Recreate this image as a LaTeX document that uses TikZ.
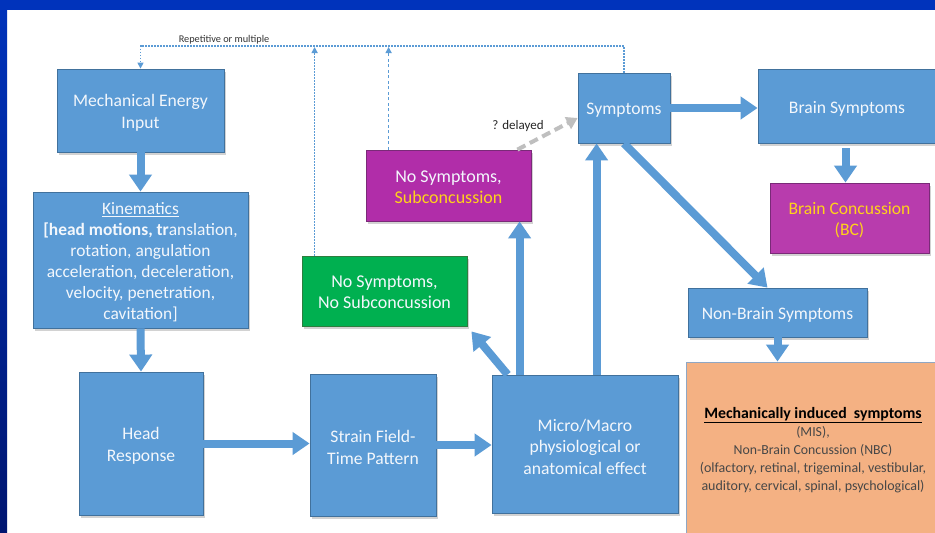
\documentclass[tikz,border=0pt]{standalone}
\usepackage{fontspec}
\setmainfont{Carlito}
\usetikzlibrary{arrows.meta,shadows,calc}

\definecolor{boxblue}{HTML}{5B9BD5}
\definecolor{boxedge}{HTML}{41719C}
\definecolor{subpurple}{HTML}{B12DA9}
\definecolor{bcpurple}{HTML}{B83CAD}
\definecolor{purpedge}{HTML}{7A2A78}
\definecolor{okgreen}{HTML}{00B050}
\definecolor{greenedge}{HTML}{2E7D3E}
\definecolor{peach}{HTML}{F4B183}
\definecolor{peachedge}{HTML}{8FA7C4}
\definecolor{warnyellow}{HTML}{FFD21A}
\definecolor{frameblue}{HTML}{0033BB}
\definecolor{framenavy}{HTML}{001570}
\definecolor{softwhite}{HTML}{F3F7FC}

\tikzset{
  box/.style={draw=boxedge, line width=0.8pt, fill=boxblue, inner sep=0pt,
    drop shadow={shadow xshift=2pt, shadow yshift=-2.5pt, opacity=0.35}},
  purplebox/.style={box, fill=subpurple, draw=purpedge},
  boxlabel/.style={text=softwhite, align=center, inner sep=0pt, yshift=-2.5pt,
    font=\fontsize{17.6}{22}\selectfont},
  fat/.style={draw=boxblue, line width=8pt, -{Triangle[width=22pt,length=17pt]}},
  loopline/.style={draw=boxblue, line width=1.4pt, dash pattern=on 1.3pt off 1.7pt},
  loopdash/.style={draw=boxblue, line width=1.3pt, dash pattern=on 3pt off 2.5pt},
  smalltip/.style={-{Triangle[width=6pt,length=6pt]}},
  delay/.style={draw=black!25, line width=4pt, dash pattern=on 9pt off 5pt,
    -{Triangle[width=13pt,length=11pt]}}
}

\begin{document}
\begin{tikzpicture}[x=1pt,y=-1pt]
\useasboundingbox (0,0) rectangle (935,533);

% slide frame
\fill[white] (0,0) rectangle (935,533);
\shade[top color=frameblue, bottom color=framenavy] (0,0) rectangle (7,533);
\fill[frameblue] (0,0) rectangle (935,10);

% main chain
\node[box, minimum width=167pt, minimum height=83pt,
      label={[boxlabel]center:{Mechanical Energy\\Input}}] (mech) at (140.5,110.5) {};
\node[box, minimum width=215pt, minimum height=136pt,
      label={[boxlabel, font=\fontsize{17.4}{21}\selectfont]center:{\underline{Kinematics}\\
   \textbf{[head motions, tr}anslation,\\
   rotation, angulation\\
   acceleration, deceleration,\\
   velocity, penetration,\\
   cavitation]}}] (kin) at (140.5,260) {};
\node[box, minimum width=124pt, minimum height=143pt,
      label={[boxlabel]center:{Head\\Response}}] (head) at (141,443.5) {};
\node[box, minimum width=126pt, minimum height=142pt,
      label={[boxlabel]center:{Strain Field-\\Time Pattern}}] (strain) at (373,445) {};
\node[box, minimum width=186pt, minimum height=138pt,
      label={[boxlabel, font=\fontsize{17.6}{21.5}\selectfont]center:{Micro/Macro\\physiological or\\anatomical effect}}]
      (micro) at (585,444) {};

% outcomes
\node[box, fill=okgreen, draw=greenedge, minimum width=165pt, minimum height=70pt,
      label={[boxlabel, yshift=1pt, font=\fontsize{18}{21}\selectfont]center:{No Symptoms,\\No Subconcussion}}]
      (green) at (384.5,291) {};
\node[purplebox, minimum width=165pt, minimum height=71pt,
      label={[boxlabel, yshift=1pt, font=\fontsize{18}{20.5}\selectfont]center:{No Symptoms,\\\textcolor{warnyellow}{Subconcussion}}}]
      (sub) at (448.5,185.5) {};
\node[box, minimum width=92pt, minimum height=70pt,
      label={[boxlabel]center:Symptoms}] (symp) at (624,108) {};
\node[box, minimum width=178pt, minimum height=74pt,
      label={[boxlabel]center:Brain Symptoms}] (brain) at (847,106) {};
\node[purplebox, fill=bcpurple, minimum width=159pt, minimum height=70pt,
      label={[boxlabel, text=warnyellow, font=\fontsize{17.6}{21}\selectfont]center:{Brain Concussion\\(BC)}}]
      (bc) at (849.5,218) {};
\node[box, minimum width=179pt, minimum height=49pt,
      label={[boxlabel]center:Non-Brain Symptoms}] (nbs) at (777.5,312.5) {};
\node[box, fill=peach, draw=peachedge, minimum width=254pt,
      minimum height=171pt] (mis) at (813,447.5) {};
\node[text=black!72, align=center, inner sep=0pt,
      font=\fontsize{13.8}{18}\selectfont] (mistext) at (813,450)
  {{\fontsize{15.8}{18}\selectfont\color{black}\underline{\textbf{Mechanically induced\ \ symptoms}}}\\
   (MIS),\\
   Non-Brain Concussion (NBC)\\
   {\fontsize{14}{18}\selectfont (olfactory, retinal, trigeminal, vestibular,}\\
   {\fontsize{14}{18}\selectfont auditory, cervical, spinal, psychological)}};

% thick flow arrows
\draw[fat] (mech.south) -- (kin.north);
\draw[fat] (kin.south) -- (head.north);
\draw[fat] (head.east) -- (head.east -| strain.west);
\draw[fat] (strain.east) -- (strain.east -| micro.west);
\draw[fat] ([xshift=16pt]micro.north west) -- ([xshift=4pt,yshift=-5pt]green.south east);
\coordinate (subfoot) at ([xshift=28pt]micro.north west);
\draw[fat] (subfoot) -- (subfoot |- sub.south);
\coordinate (sympfoot) at ([xshift=105pt]micro.north west);
\draw[fat] (sympfoot) -- (sympfoot |- symp.south);
\draw[fat] (symp.east) -- (symp.east -| brain.west);
\coordinate (bctop) at ([xshift=-4pt]bc.north |- brain.south);
\draw[fat] ([yshift=-5pt]bctop) -- (bctop |- bc.north);
\draw[fat] (symp.south) -- ([xshift=-10pt]nbs.north);
\draw[fat] (nbs.south) -- (nbs.south |- mis.north);

% delayed path
\draw[delay] ([xshift=-14pt]sub.north east) -- ([yshift=-10pt]symp.west);
\node[font=\fontsize{13}{15}\selectfont, text=black!85] (dl) at (518,126) {? delayed};

% repetition loop
\coordinate (looptop) at (0,46);
\draw[loopline, smalltip] (symp.north) -- (symp.north |- looptop)
  -- (mech.north |- looptop) -- (mech.north);
\coordinate (gfoot) at ([xshift=13pt]green.north west);
\draw[loopline, smalltip] (gfoot) -- ([yshift=-1pt]gfoot |- looptop);
\coordinate (sfoot) at ([xshift=23pt]sub.north west);
\draw[loopdash, smalltip] (sfoot) -- ([yshift=-1pt]sfoot |- looptop);
\node[font=\fontsize{10.3}{11}\selectfont, text=black!80] (rep) at (224,40)
  {Repetitive or multiple};
\end{tikzpicture}
\end{document}
